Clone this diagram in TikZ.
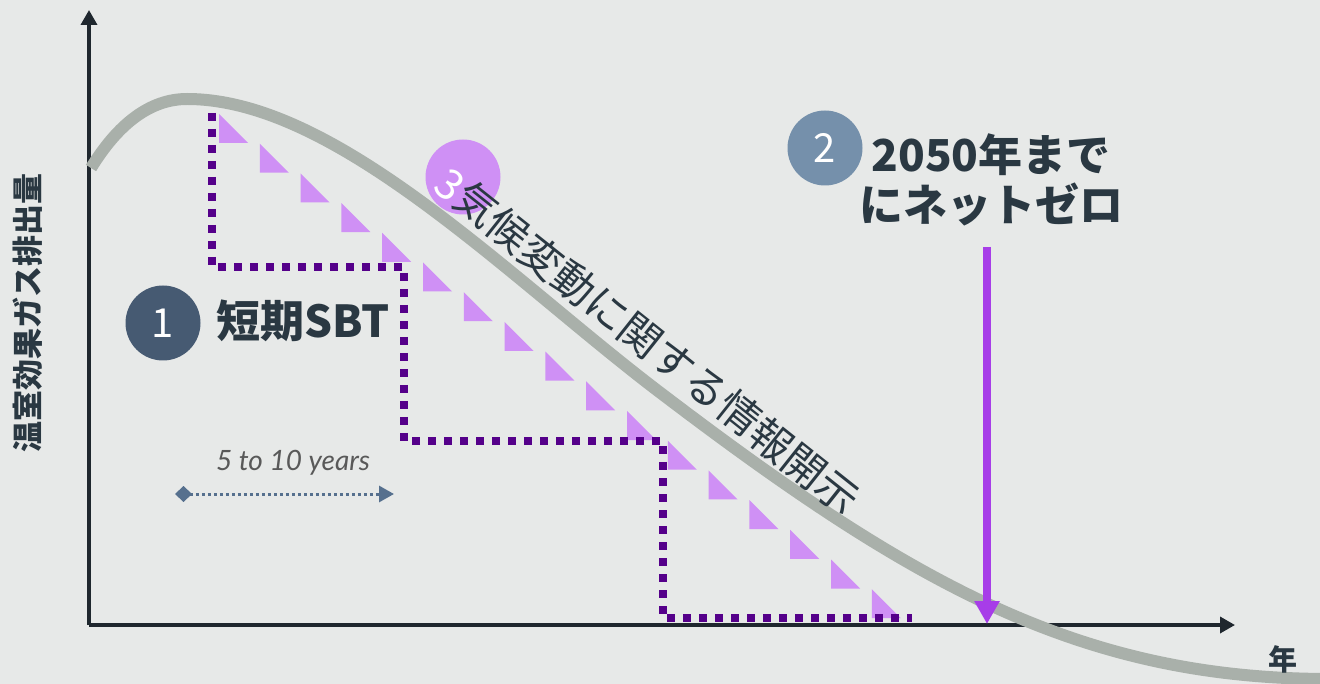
\documentclass[tikz,border=0pt]{standalone}
\usepackage{fontspec}
\setmainfont{Lato}
\newfontfamily\jp{Noto Sans CJK JP}
\usetikzlibrary{arrows.meta}
\definecolor{bg}{HTML}{E7E9E8}
\definecolor{axisc}{HTML}{1F272E}
\definecolor{curvec}{HTML}{A9B0AA}
\definecolor{stairc}{HTML}{55008A}
\definecolor{tric}{HTML}{CF90F5}
\definecolor{arrowc}{HTML}{A73DE8}
\definecolor{txt}{HTML}{2A3842}
\definecolor{cone}{HTML}{465A72}
\definecolor{ctwo}{HTML}{7590AB}
\definecolor{spanc}{HTML}{56708E}
\tikzset{
  axisline/.style={draw=axisc, line width=3.5pt, -{Triangle[length=15pt,width=16pt]}},
  stair/.style={draw=stairc, line width=8pt, dash pattern=on 8pt off 8pt},
  tri/.style={fill=tric},
  badge/.style={circle, minimum size=75pt, inner sep=0pt, text=white, font=\jp\fontsize{40}{40}\selectfont},
  lbl/.style={text=txt, inner sep=0pt, font=\jp\bfseries\fontsize{44}{50}\selectfont},
}
\begin{document}
\begin{tikzpicture}[x=1pt,y=-1pt]
\useasboundingbox (0,0) rectangle (1320,684);
\fill[bg] (0,0) rectangle (1320,684);
% triangles
\foreach \i in {0,...,16}
  \fill[tri] ({219+40.8*\i},{114+29.7*\i}) -- ++(0,29) -- ++(29,0) -- cycle;
% staircase
\coordinate (s0) at (212,113);
\coordinate (s1) at (212,267);
\coordinate (s2) at (404,267);
\coordinate (s3) at (404,441);
\coordinate (s4) at (663,441);
\coordinate (s5) at (663,618);
\coordinate (s6) at (912,618);
\draw[stair] (s0) -- (s1) -- (s2) -- (s3) -- (s4) -- (s5) -- (s6);
% axes
\coordinate (o) at (89,625);
\coordinate (ytop) at (89,10);
\coordinate (xend) at (1235,625);
\draw[axisline] (o) -- (ytop);
\draw[axisline] (o) -- (xend);
% badge 3 (behind curve)
\node[badge, fill=tric] (b3) at (463,177) {};
% curve
\coordinate (c0) at (91,168);
\coordinate (c1) at (187,99);
\coordinate (c2) at (662,394);
\coordinate (c3) at (1330,679);
\draw[curvec, line width=12pt] (c0) .. controls (118,124) and (150,99) .. (c1)
  .. controls (337,99) and (510,279) .. (c2)
  .. controls (912,584) and (1080,679) .. (c3);
% badges
\node[badge, fill=cone] (b1) at (163,323) {1};
\node[badge, fill=ctwo] (b2) at (825,148) {2};
% labels
\node[lbl, anchor=west] (sbt) at (216,321) {短期SBT};
\node[lbl, align=center] (nz) at (991,180) {2050年まで\\にネットゼロ};
\node[lbl, font=\jp\fontsize{42}{42}\selectfont, rotate=-38.5] (disc) at (648,341) {{\color{white}3}気候変動に関する情報開示};
\node[text=txt, font=\jp\bfseries\fontsize{31}{31}\selectfont, rotate=90, inner sep=0pt] (ylab) at (28,313) {温室効果ガス排出量};
\node[text=txt, font=\jp\bfseries\fontsize{29}{29}\selectfont, inner sep=0pt] (xlab) at (1283,659) {年};
% span arrow
\node[text=black!65, font=\itshape\fontsize{28}{28}\selectfont, inner sep=0pt] (span) at (293,463) {5 to 10 years};
\coordinate (pa) at (177,494);
\coordinate (pb) at (394,494);
\draw[spanc, line width=3pt, dash pattern=on 3pt off 3pt, {Diamond[length=17pt,width=16pt,sep=-2pt]}-{Triangle[length=15pt,width=16pt]}] (pa) -- (pb);
% net zero arrow
\coordinate (na) at (987,247);
\coordinate (nb) at (987,624);
\draw[arrowc, line width=8pt, -{Triangle[length=23pt,width=24pt]}] (na) -- (nb);
\end{tikzpicture}
\end{document}
